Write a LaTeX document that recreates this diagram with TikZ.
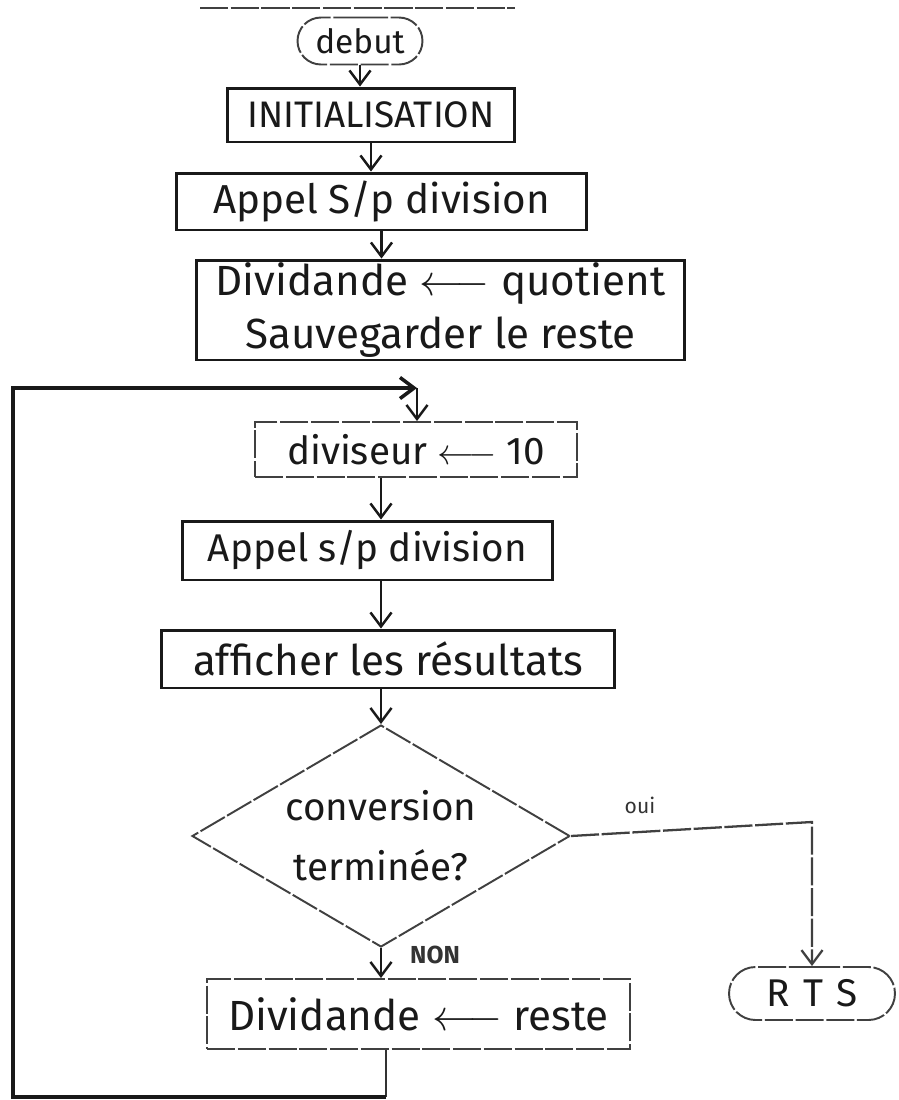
\documentclass[tikz,border=0pt]{standalone}
\usepackage{fontspec}
\setmainfont{Fira Sans}
\usetikzlibrary{arrows.meta,shapes.geometric,shapes.misc}
\begin{document}
\begin{tikzpicture}[x=0.02cm,y=-0.02cm,
  ink/.style={draw=black!90,line width=1.7pt},
  faint/.style={draw=black!75,line width=1.1pt,dash pattern=on 16pt off 1.5pt},
  txt/.style={font=\fontsize{22}{30}\selectfont,text=black!90},
  proc/.style={ink,rectangle,inner sep=0pt,align=center,txt},
  procfaint/.style={proc,faint},
  term/.style={faint,rounded rectangle,inner sep=0pt,txt},
  decision/.style={faint,diamond,inner sep=0pt},
  tip/.style={-{Straight Barb[length=8pt,width=12pt,line width=1.4pt]}},
  flow/.style={draw=black!90,line width=1.4pt,tip},
  loopline/.style={draw=black!90,line width=2pt},
  lbl/.style={inner sep=0pt,text=black!80}]

  % page
  \fill[white] (0,0) rectangle (899,1100);
  \useasboundingbox (0,0) rectangle (899,1100);
  \draw[faint,line width=0.9pt] (200,8) -- (515,8);

  % steps
  \node[term,minimum width=2.5cm,minimum height=0.94cm,font=\fontsize{19}{22}\selectfont] (debut) at (360,41) {debut};
  \node[proc,minimum width=5.76cm,minimum height=1.08cm,font=\fontsize{21}{24}\selectfont] (init) at (371,115) {INITIALISATION};
  \node[proc,minimum width=8.22cm,minimum height=1.14cm,font=\fontsize{23}{28}\selectfont] (appel1) at (381.5,201.5) {Appel S/p division};
  \node[proc,minimum width=9.78cm,minimum height=2.0cm,font=\fontsize{24}{30}\selectfont] (quot) at (440.5,310)
    {Dividande $\longleftarrow$ quotient\\Sauvegarder le reste};
  \node[procfaint,minimum width=6.44cm,minimum height=1.1cm] (divis) at (416,449.5) {diviseur $\longleftarrow$ 10};
  \node[proc,minimum width=7.42cm,minimum height=1.18cm] (appel2) at (367.5,550.5) {Appel s/p division};
  \node[proc,minimum width=9.08cm,minimum height=1.16cm,font=\fontsize{24}{28}\selectfont] (aff) at (388,659) {afficher les résultats};
  \node[decision,minimum width=7.56cm,minimum height=4.44cm] (dec) at (381,836) {};
  \node[txt,align=center,inner sep=0pt,font=\fontsize{22}{34}\selectfont] (dectext) at (dec.center) {conversion\\terminée?};
  \node[procfaint,minimum width=8.46cm,minimum height=1.4cm,font=\fontsize{24}{28}\selectfont] (rest) at (418.5,1014) {Dividande $\longleftarrow$ reste};
  \node[term,minimum width=3.32cm,minimum height=1.06cm] (rts) at (812,993.5) {R\,\,T\,\,S};

  % branch labels
  \node[lbl,font=\fontsize{12}{14}\selectfont] (oui) at (640,805) {oui};
  \node[lbl,font=\fontsize{14}{16}\selectfont\bfseries] (non) at (435,955) {NON};

  % columns and loop corners
  \coordinate (c1) at (381,0);
  \coordinate (cret) at (386,1097);
  \coordinate (cbl) at (13,1097);
  \coordinate (ctl) at (13,388);
  \coordinate (join) at (417,388);
  \coordinate (ouiy) at (0,822);

  % connectors
  \draw[flow] (debut.south) -- (debut.south |- init.north);
  \draw[flow] (init.south) -- (init.south |- appel1.north);
  \draw[flow] (appel1.south) -- (appel1.south |- quot.north);
  \draw[flow] (join) -- (join |- divis.north);
  \draw[flow] (divis.south -| c1) -- (appel2.north -| c1);
  \draw[flow] (appel2.south -| c1) -- (aff.north -| c1);
  \draw[flow] (aff.south -| dec.north) -- (dec.north);
  \draw[flow] (dec.south) -- (dec.south |- rest.north);
  \draw[faint,line width=1.3pt,-{Straight Barb[length=8pt,width=12pt,line width=1.3pt]}]
    (dec.east) -- (rts.north |- ouiy) -- (rts.north);
  % return loop back to the divisor step
  \draw[draw=black!80,line width=1.1pt] (cret |- rest.south) -- (cret);
  \draw[loopline,-{Straight Barb[length=8pt,width=12pt,line width=2pt]}]
    (cret) -- (cbl) -- (ctl) -- (join);
\end{tikzpicture}
\end{document}
